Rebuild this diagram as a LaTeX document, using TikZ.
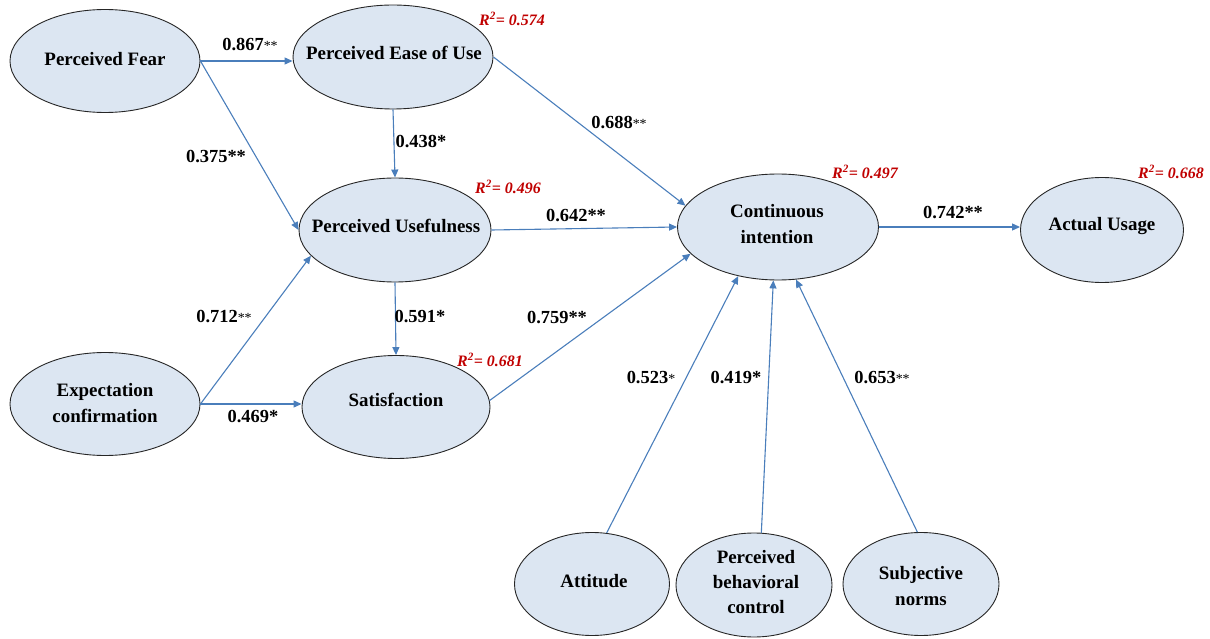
\documentclass[tikz,border=0pt]{standalone}
\usepackage{fontspec}
\setmainfont{Liberation Serif}
\usetikzlibrary{shapes.geometric,arrows.meta}
\definecolor{ellfill}{HTML}{DCE6F2}
\definecolor{arrowblue}{HTML}{4A7EBB}
\definecolor{rsqred}{HTML}{C00000}
\tikzset{
  construct/.style={ellipse, draw=black!85, line width=0.9bp, fill=ellfill, inner sep=0pt},
  ctext/.style={font=\fontsize{19}{25.5}\selectfont\bfseries, align=center, inner sep=0pt},
  path/.style={draw=arrowblue, line width=1.1bp, -{Triangle[length=8bp,width=7bp]}},
  coef/.style={font=\fontsize{18.5}{20}\selectfont\bfseries, inner sep=0pt},
  rsq/.style={font=\fontsize{16}{18}\selectfont\bfseries\itshape, text=rsqred, inner sep=0pt}
}
\newcommand{\sst}[1]{{\mdseries\fontsize{14}{16}\selectfont #1}}
\begin{document}
\begin{tikzpicture}[x=1bp,y=-1bp]
\useasboundingbox (0,0) rectangle (1210,639);
% constructs
\node[construct, minimum width=190bp, minimum height=103bp] (pf) at (105,61) {};
\node[construct, minimum width=200bp, minimum height=104bp] (peou) at (393,57) {};
\node[construct, minimum width=192bp, minimum height=104bp] (pu) at (395,230) {};
\node[construct, minimum width=190bp, minimum height=103bp] (ec) at (105,404) {};
\node[construct, minimum width=188bp, minimum height=103bp] (sat) at (396,407) {};
\node[construct, minimum width=201bp, minimum height=106bp] (ci) at (778,227) {};
\node[construct, minimum width=163bp, minimum height=105bp] (au) at (1102,230) {};
\node[construct, minimum width=155bp, minimum height=103bp] (att) at (592,584) {};
\node[construct, minimum width=156bp, minimum height=104bp] (pbc) at (754,585) {};
\node[construct, minimum width=156bp, minimum height=103bp] (sn) at (921,584) {};
% construct texts
\node[ctext] (pft) at (105,59) {Perceived Fear};
\node[ctext] (peout) at (394,53) {Perceived Ease of Use};
\node[ctext] (put) at (396,226) {Perceived Usefulness};
\node[ctext] (ect) at (105,403) {Expectation\\confirmation};
\node[ctext] (satt) at (396,400) {Satisfaction};
\node[ctext] (cit) at (777,224) {Continuous\\intention};
\node[ctext] (aut) at (1102,226) {Actual Usage};
\node[ctext] (attt) at (594,581) {Attitude};
\node[ctext] (pbct) at (756,582) {Perceived\\behavioral\\control};
\node[ctext] (snt) at (921,586) {Subjective\\norms};
% paths
\draw[path] (pf.east) -- (pf.east -| peou.west);
\draw[path] (pf.east) -- (pu.west);
\draw[path] (peou.south) -- (pu.north);
\draw[path] (peou.east) -- (ci.167);
\draw[path] (pu.east) -- (ci.west);
\draw[path] (ec.east) -- (pu.197);
\draw[path] (ec.east) -- (ec.east -| sat.west);
\draw[path] (pu.south) -- (sat.north);
\draw[path] (sat.4) -- (ci.197);
\draw[path] (ci.east) -- (ci.east -| au.west);
\draw[path] (att.74) -- (ci.231);
\draw[path] (pbc.82) -- (ci.265);
\draw[path] (sn.94) -- (ci.289);
% coefficients
\node[coef] (c1) at (250,45) {0.867\sst{**}};
\node[coef] (c2) at (216,157) {0.375**};
\node[coef] (c3) at (421,142) {0.438*};
\node[coef] (c4) at (619,123) {0.688\sst{**}};
\node[coef] (c5) at (576,216) {0.642**};
\node[coef] (c6) at (224,317) {0.712\sst{**}};
\node[coef] (c7) at (420,317) {0.591*};
\node[coef] (c8) at (557,318) {0.759**};
\node[coef] (c9) at (253,417) {0.469*};
\node[coef] (c10) at (953,213) {0.742**};
\node[coef] (c11) at (651,378) {0.523\sst{*}};
\node[coef] (c12) at (736,378) {0.419*};
\node[coef] (c13) at (882,378) {0.653\sst{**}};
% R squared
\node[rsq] (r1) at (512,19) {R\textsuperscript{2}= 0.574};
\node[rsq] (r2) at (508,187) {R\textsuperscript{2}= 0.496};
\node[rsq] (r3) at (490,360) {R\textsuperscript{2}= 0.681};
\node[rsq] (r4) at (865,172) {R\textsuperscript{2}= 0.497};
\node[rsq] (r5) at (1171,172) {R\textsuperscript{2}= 0.668};
\end{tikzpicture}
\end{document}
